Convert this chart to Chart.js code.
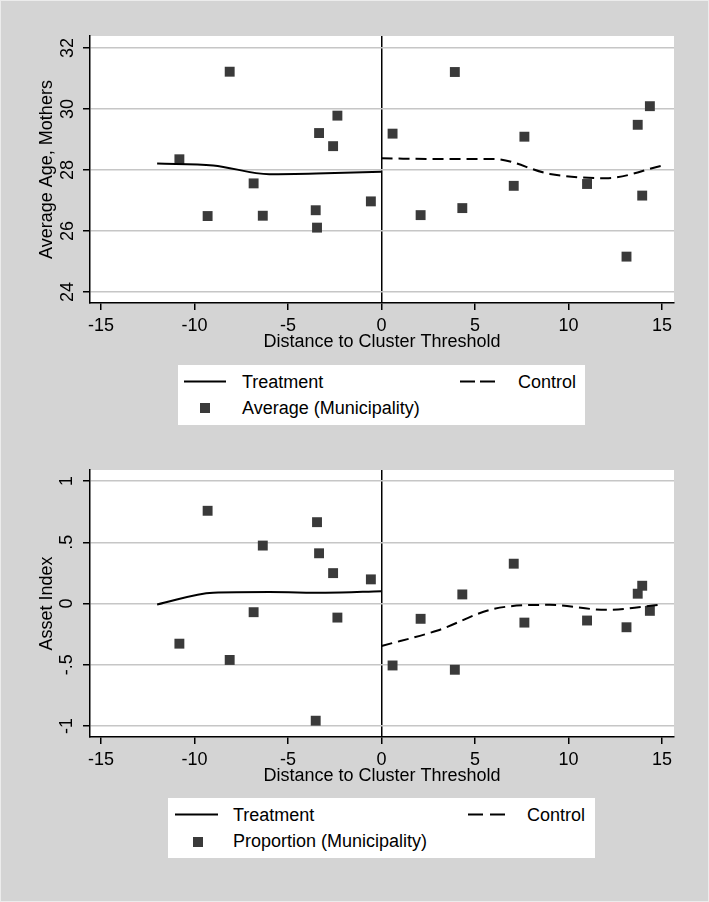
<!DOCTYPE html>
<html>
<head>
<meta charset="utf-8">
<script src="https://cdn.jsdelivr.net/npm/chart.js@4/dist/chart.umd.min.js"></script>
<style>
  html, body { margin:0; padding:0; }
  body { width:709px; height:902px; background:#ececec; position:relative; overflow:hidden;
         font-family:"Liberation Sans", Arial, Helvetica, sans-serif; }
  #frame { position:absolute; left:1px; top:1px; width:707px; height:900px; background:#d4d4d4; }
  canvas { position:absolute; left:0; }
  .legend { position:absolute; background:#fff; height:60px; }
  .legend .t { position:absolute; font-size:18px; line-height:18px; color:#000; white-space:nowrap; }
  .legend svg { position:absolute; left:0; top:0; }
</style>
</head>
<body>
<div id="frame"></div>
<canvas id="c1" width="709" height="451" style="top:0"></canvas>
<canvas id="c2" width="709" height="451" style="top:451px"></canvas>

<div class="legend" style="left:178px; top:365px; width:407px;">
  <svg width="407" height="60">
    <line x1="6" y1="16.5" x2="48" y2="16.5" stroke="#000" stroke-width="2"/>
    <line x1="282" y1="16.5" x2="317" y2="16.5" stroke="#000" stroke-width="2" stroke-dasharray="15,5"/>
    <rect x="22" y="38" width="10" height="10" fill="#3a3a3a"/>
  </svg>
  <div class="t" style="left:64px; top:8px;">Treatment</div>
  <div class="t" style="left:340px; top:8px;">Control</div>
  <div class="t" style="left:64px; top:34px;">Average (Municipality)</div>
</div>

<div class="legend" style="left:168px; top:798px; width:427px;">
  <svg width="427" height="60">
    <line x1="7" y1="16.5" x2="50" y2="16.5" stroke="#000" stroke-width="2"/>
    <line x1="300" y1="16.5" x2="337" y2="16.5" stroke="#000" stroke-width="2" stroke-dasharray="15,7"/>
    <rect x="25" y="39" width="10" height="10" fill="#3a3a3a"/>
  </svg>
  <div class="t" style="left:65px; top:8px;">Treatment</div>
  <div class="t" style="left:359px; top:8px;">Control</div>
  <div class="t" style="left:65px; top:34px;">Proportion (Municipality)</div>
</div>

<script>
// ---- data ----
const municipalityDistance = [-10.81, -9.30, -8.12, -6.84, -6.35, -3.52, -3.45, -3.34, -2.59, -2.36, -0.57,
                              0.59, 2.09, 3.92, 4.32, 7.07, 7.64, 10.99, 13.10, 13.70, 13.94, 14.35];
const avgAgeMothers = [28.35, 26.49, 31.22, 27.56, 26.50, 26.68, 26.11, 29.21, 28.78, 29.78, 26.97,
                       29.19, 26.52, 31.21, 26.75, 27.48, 29.09, 27.54, 25.16, 29.48, 27.16, 30.09];
const assetIndex = [-0.328, 0.757, -0.461, -0.071, 0.473, -0.957, 0.664, 0.410, 0.248, -0.115, 0.197,
                    -0.506, -0.125, -0.541, 0.074, 0.325, -0.156, -0.139, -0.194, 0.080, 0.145, -0.060];

const treatmentGrid = [-12, -9, -6, -3, 0];
const controlGrid = [0, 3, 6, 9, 12, 15];
const ageTreatmentFit = [28.21, 28.15, 27.86, 27.89, 27.94];
const ageControlFit = [28.38, 28.36, 28.36, 27.87, 27.73, 28.14];
const assetTreatmentFit = [-0.008, 0.088, 0.093, 0.088, 0.10];
const assetControlFit = [-0.347, -0.22, -0.044, -0.011, -0.052, -0.008];

const xTicks = [-15, -10, -5, 0, 5, 10, 15];
const xTickLabels = ['-15', '-10', '-5', '0', '5', '10', '15'];
const ageTicks = [24, 26, 28, 30, 32];
const ageTickLabels = ['24', '26', '28', '30', '32'];
const assetTicks = [-1, -0.5, 0, 0.5, 1];
const assetTickLabels = ['-1', '-.5', '0', '.5', '1'];

const xTitle = 'Distance to Cluster Threshold';
const ageTitle = 'Average Age, Mothers';
const assetTitle = 'Asset Index';

// ---- drawing ----
const FONT = { family: '"Liberation Sans", Arial, Helvetica, sans-serif', size: 18 };
const pts = (xs, ys) => xs.map((x, i) => ({ x: x, y: ys[i] }));

const plotBg = {
  id: 'plotBg',
  beforeDraw(chart) {
    const a = chart.chartArea, ctx = chart.ctx;
    ctx.save();
    ctx.fillStyle = '#ffffff';
    ctx.fillRect(a.left, a.top, a.right - a.left, a.bottom - a.top);
    ctx.restore();
  }
};

function makeChart(canvasId, cfg) {
  return new Chart(document.getElementById(canvasId), {
    type: 'scatter',
    data: {
      datasets: [
        { label: 'Treatment', data: pts(treatmentGrid, cfg.treat), showLine: true, borderColor: '#000',
          borderWidth: 2, pointRadius: 0, cubicInterpolationMode: 'monotone', fill: false },
        { label: 'Control', data: pts(controlGrid, cfg.ctrl), showLine: true, borderColor: '#000',
          borderWidth: 2, borderDash: [11, 6], pointRadius: 0, cubicInterpolationMode: 'monotone', fill: false },
        { label: cfg.pointLabel, data: pts(municipalityDistance, cfg.values), showLine: false,
          pointStyle: 'rect', pointRadius: 7, backgroundColor: '#3a3a3a', borderWidth: 0 }
      ]
    },
    options: {
      responsive: false,
      animation: false,
      devicePixelRatio: 1,
      events: [],
      layout: { padding: { left: 0, right: 35, top: cfg.padTop, bottom: cfg.padBottom } },
      plugins: { legend: { display: false }, tooltip: { enabled: false } },
      scales: {
        x: {
          type: 'linear', min: -15.59, max: 15.64,
          afterBuildTicks: s => { s.ticks = xTicks.map(v => ({ value: v })); },
          afterFit: s => { s.height = 60; },
          grid: {
            drawOnChartArea: true,
            color: c => (c.tick && c.tick.value === 0) ? '#000' : 'rgba(0,0,0,0)',
            lineWidth: 1.5, tickColor: '#000', tickLength: 7, tickWidth: 1.5
          },
          border: { color: '#000', width: 1.5 },
          ticks: { color: '#000', font: FONT, padding: 5, maxRotation: 0, minRotation: 0, autoSkip: false,
                   callback: (v, i) => xTickLabels[i] },
          title: { display: true, text: xTitle, color: '#000', font: FONT, padding: { top: 0, bottom: 10 } }
        },
        y: {
          type: 'linear', min: cfg.yMin, max: cfg.yMax,
          afterBuildTicks: s => { s.ticks = cfg.yTicks.map(v => ({ value: v })); },
          afterFit: s => { s.width = 90; },
          grid: { color: '#c6c6c6', lineWidth: 1.5, tickColor: '#000', tickLength: 7, tickWidth: 1.5 },
          border: { color: '#000', width: 1.5 },
          ticks: { color: '#000', font: FONT, padding: 5, minRotation: 90, maxRotation: 90,
                   crossAlign: 'center', autoSkip: false, callback: (v, i) => cfg.yLabels[i] },
          title: { display: true, text: cfg.yTitle, color: '#000', font: FONT, padding: { top: 36, bottom: 0 } }
        }
      }
    },
    plugins: [plotBg]
  });
}

makeChart('c1', {
  treat: ageTreatmentFit, ctrl: ageControlFit, values: avgAgeMothers, pointLabel: 'Average (Municipality)',
  yMin: 23.64, yMax: 32.39, yTicks: ageTicks, yLabels: ageTickLabels, yTitle: ageTitle,
  padTop: 36, padBottom: 88
});
makeChart('c2', {
  treat: assetTreatmentFit, ctrl: assetControlFit, values: assetIndex, pointLabel: 'Proportion (Municipality)',
  yMin: -1.09, yMax: 1.09, yTicks: assetTicks, yLabels: assetTickLabels, yTitle: assetTitle,
  padTop: 19, padBottom: 105
});
</script>
</body>
</html>
